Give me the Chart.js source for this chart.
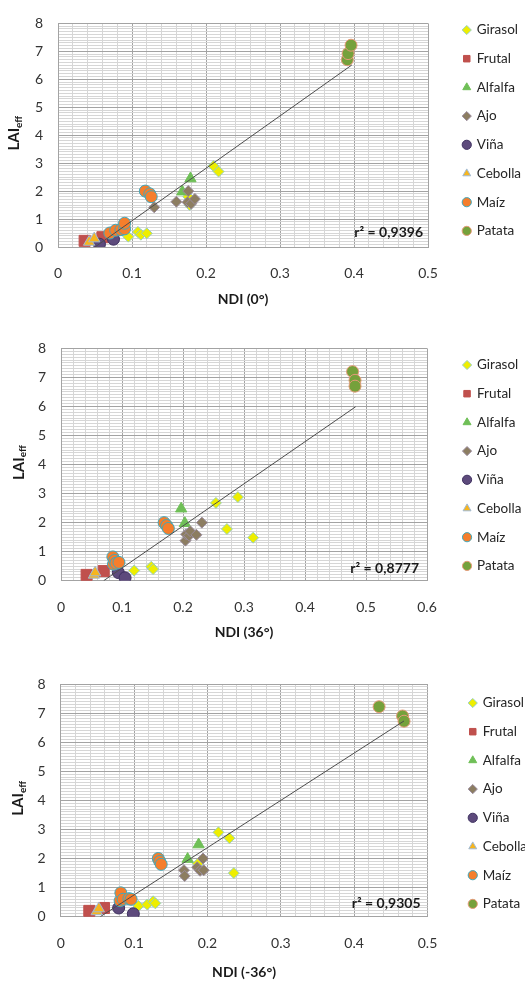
<!DOCTYPE html>
<html>
<head>
<meta charset="utf-8">
<script src="https://cdn.jsdelivr.net/npm/chart.js@4.4.0/dist/chart.umd.min.js"></script>
<style>
    html, body { margin: 0; padding: 0; background: #fff; }
    body { width: 525px; height: 983px; position: relative; overflow: hidden; }
    canvas { position: absolute; left: 0; }
</style>
</head>
<body>
<canvas id="c0" width="525" height="325" style="top:0px"></canvas>
<canvas id="c36" width="525" height="330" style="top:325px"></canvas>
<canvas id="cm36" width="525" height="328" style="top:655px"></canvas>
<script>
var seriesNames = ['Girasol', 'Frutal', 'Alfalfa', 'Ajo', 'Viña', 'Cebolla', 'Maíz', 'Patata'];

// NDI (0°)
var girasol0 = [[0.095, 0.37], [0.108, 0.54], [0.112, 0.44], [0.12, 0.49], [0.176, 1.8], [0.178, 1.5], [0.21, 2.9], [0.217, 2.7]];
var frutal0 = [[0.036, 0.22], [0.06, 0.35]];
var alfalfa0 = [[0.168, 1.98], [0.179, 2.45]];
var ajo0 = [[0.13, 1.42], [0.16, 1.62], [0.175, 1.6], [0.176, 2.0], [0.18, 1.55], [0.185, 1.72]];
var vina0 = [[0.056, 0.1], [0.075, 0.28]];
var cebolla0 = [[0.042, 0.18], [0.049, 0.3]];
var maiz0 = [[0.07, 0.5], [0.078, 0.6], [0.085, 0.62], [0.09, 0.65], [0.09, 0.85], [0.118, 2.0], [0.124, 1.9], [0.126, 1.8]];
var patata0 = [[0.391, 6.7], [0.392, 6.92], [0.396, 7.22]];
var fit0 = [[0.05, 0], [0.397, 6.51]];

// NDI (36°)
var girasol36 = [[0.12, 0.35], [0.148, 0.48], [0.151, 0.4], [0.254, 2.68], [0.272, 1.78], [0.29, 2.88], [0.315, 1.48]];
var frutal36 = [[0.042, 0.2], [0.07, 0.33]];
var alfalfa36 = [[0.197, 2.48], [0.203, 1.98]];
var ajo36 = [[0.204, 1.38], [0.205, 1.6], [0.21, 1.55], [0.212, 1.7], [0.222, 1.58], [0.231, 2.0]];
var vina36 = [[0.094, 0.28], [0.105, 0.1]];
var cebolla36 = [[0.054, 0.2], [0.056, 0.28]];
var maiz36 = [[0.085, 0.82], [0.086, 0.57], [0.088, 0.7], [0.09, 0.6], [0.095, 0.63], [0.169, 2.0], [0.173, 1.9], [0.176, 1.8]];
var patata36 = [[0.478, 7.2], [0.482, 6.9], [0.482, 6.7]];
var fit36 = [[0.07, 0], [0.483, 5.99]];

// NDI (-36°)
var girasolM36 = [[0.106, 0.37], [0.118, 0.42], [0.126, 0.53], [0.129, 0.46], [0.187, 1.82], [0.215, 2.9], [0.23, 2.7], [0.236, 1.5]];
var frutalM36 = [[0.039, 0.2], [0.059, 0.3]];
var alfalfaM36 = [[0.173, 1.98], [0.188, 2.48]];
var ajoM36 = [[0.168, 1.6], [0.169, 1.4], [0.186, 1.7], [0.19, 1.58], [0.194, 2.0], [0.195, 1.6]];
var vinaM36 = [[0.079, 0.3], [0.099, 0.1]];
var cebollaM36 = [[0.049, 0.18], [0.052, 0.28]];
var maizM36 = [[0.081, 0.55], [0.082, 0.82], [0.085, 0.6], [0.093, 0.62], [0.096, 0.6], [0.133, 2.0], [0.135, 1.9], [0.137, 1.8]];
var patataM36 = [[0.434, 7.22], [0.466, 6.9], [0.468, 6.72]];
var fitM36 = [[0.054, 0], [0.468, 6.73]];

var xLabels05 = ['0', '0.1', '0.2', '0.3', '0.4', '0.5'];
var xLabels06 = ['0', '0.1', '0.2', '0.3', '0.4', '0.5', '0.6'];
var yLabels = ['0', '1', '2', '3', '4', '5', '6', '7', '8'];
var xTitles = ['NDI (0°)', 'NDI (36°)', 'NDI (-36°)'];
var r2Texts = ['r² = 0,9396', 'r² = 0,8777', 'r² = 0,9305'];

(function () {
    Chart.defaults.font.family = 'Lato';
    Chart.defaults.font.size = 14;
    Chart.defaults.color = '#333333';

    var majorGrid = '#a3a3a3';
    var minorGrid = '#d6d6d6';

    var styles = [
        { pointStyle: 'rectRot', radius: 5.5, bg: '#eeee00', border: '#96cfc3' },
        { pointStyle: 'rect', radius: 7.8, bg: '#c0504d', border: '#c0504d' },
        { pointStyle: 'triangle', radius: 6.5, bg: '#6fbf57', border: '#6fbf57' },
        { pointStyle: 'rectRot', radius: 5.5, bg: '#8c7d61', border: '#9a8c9f' },
        { pointStyle: 'circle', radius: 6, bg: '#5d4a7c', border: '#3f3160' },
        { pointStyle: 'triangle', radius: 6.5, bg: '#f7b51e', border: '#9fbad6' },
        { pointStyle: 'circle', radius: 6, bg: '#f57e2c', border: '#3fa8bd' },
        { pointStyle: 'circle', radius: 6, bg: '#75a13b', border: '#e59a78' }
    ];

    var charts = [
        {
            id: 'c0', xMax: 0.5, xLabels: xLabels05, xTitle: xTitles[0], r2: r2Texts[0],
            series: [girasol0, frutal0, alfalfa0, ajo0, vina0, cebolla0, maiz0, patata0], fit: fit0,
            pad: { left: 18, right: 17, top: 11, bottom: 13 }, xAxisH: 65, titlePadB: 4,
            dx: 20.3, dy: -2.95, yTitleX: 14.5, r2Inset: [5, 15]
        },
        {
            id: 'c36', xMax: 0.6, xLabels: xLabels06, xTitle: xTitles[1], r2: r2Texts[1],
            series: [girasol36, frutal36, alfalfa36, ajo36, vina36, cebolla36, maiz36, patata36], fit: fit36,
            pad: { left: 21, right: 18, top: 21, bottom: 10 }, xAxisH: 64.3, titlePadB: 4,
            dx: 21.6, dy: -2.95, yTitleX: 19, r2Inset: [8, 12.5]
        },
        {
            id: 'cm36', xMax: 0.5, xLabels: xLabels05, xTitle: xTitles[2], r2: r2Texts[2],
            series: [girasolM36, frutalM36, alfalfaM36, ajoM36, vinaM36, cebollaM36, maizM36, patataM36], fit: fitM36,
            pad: { left: 20.7, right: 17.5, top: 29, bottom: 0 }, xAxisH: 66.3, titlePadB: 2,
            dx: 26.8, dy: -2.95, yTitleX: 18.5, r2Inset: [7, 13.5]
        }
    ];

    // move the legend a bit away from the plot
    var legendShift = {
        id: 'legendShift',
        afterLayout: function (chart, args, opts) {
            var lg = chart.legend;
            lg.left += opts.dx; lg.right += opts.dx;
            lg.top += opts.dy; lg.bottom += opts.dy;
        }
    };

    // r² label and the LAIeff axis title (needs a subscript)
    var extraText = {
        id: 'extraText',
        afterDraw: function (chart, args, opts) {
            var ctx = chart.ctx, a = chart.chartArea;
            ctx.save();
            ctx.fillStyle = '#1a1a1a';
            ctx.font = 'bold 14px Lato';
            ctx.textAlign = 'right';
            ctx.textBaseline = 'middle';
            ctx.fillText(opts.r2, a.right - opts.r2Inset[0], a.bottom - opts.r2Inset[1]);

            ctx.font = 'bold 15px Lato';
            var w1 = ctx.measureText('LAI').width;
            ctx.font = 'bold 10px Lato';
            var w2 = ctx.measureText('eff').width;
            ctx.translate(opts.yTitleX, (a.top + a.bottom) / 2 - 2);
            ctx.rotate(-Math.PI / 2);
            ctx.textAlign = 'left';
            var start = -(w1 + w2) / 2;
            ctx.font = 'bold 15px Lato';
            ctx.fillText('LAI', start, 0);
            ctx.font = 'bold 10px Lato';
            ctx.fillText('eff', start + w1, 4);
            ctx.restore();
        }
    };

    function isMajor(v, step) {
        return Math.abs(v / step - Math.round(v / step)) < 1e-6;
    }

    function toPoints(arr) {
        return arr.map(function (p) { return { x: p[0], y: p[1] }; });
    }

    charts.forEach(function (c) {
        var datasets = c.series.map(function (s, i) {
            var st = styles[i];
            return {
                label: seriesNames[i],
                data: toPoints(s),
                pointStyle: st.pointStyle,
                pointRadius: st.radius,
                backgroundColor: st.bg,
                borderColor: st.border,
                borderWidth: 1,
                order: 8 - i
            };
        });
        datasets.push({
            label: 'fit',
            data: toPoints(c.fit),
            showLine: true,
            pointRadius: 0,
            borderColor: '#4d4d4d',
            borderWidth: 1,
            order: 0
        });

        new Chart(document.getElementById(c.id), {
            type: 'scatter',
            data: { datasets: datasets },
            plugins: [legendShift, extraText],
            options: {
                responsive: false,
                animation: false,
                events: [],
                layout: { padding: c.pad },
                scales: {
                    x: {
                        type: 'linear',
                        min: 0,
                        max: c.xMax,
                        afterFit: function (scale) { scale.height = c.xAxisH; },
                        grid: {
                            drawTicks: false,
                            color: function (ctx) { return isMajor(ctx.tick.value, 0.1) ? majorGrid : minorGrid; }
                        },
                        border: { color: majorGrid },
                        ticks: {
                            stepSize: 0.02,
                            maxTicksLimit: 1000,
                            autoSkip: false,
                            maxRotation: 0,
                            padding: 18,
                            callback: function (value) {
                                return isMajor(value, 0.1) ? c.xLabels[Math.round(value / 0.1)] : '';
                            }
                        },
                        title: {
                            display: true,
                            text: c.xTitle,
                            color: '#1a1a1a',
                            font: { weight: 'bold', size: 14 },
                            padding: { top: 4, bottom: c.titlePadB }
                        }
                    },
                    y: {
                        type: 'linear',
                        min: 0,
                        max: 8,
                        afterFit: function (scale) { scale.width = 40; },
                        grid: {
                            drawTicks: false,
                            color: function (ctx) { return isMajor(ctx.tick.value, 1) ? majorGrid : minorGrid; }
                        },
                        border: { color: majorGrid },
                        ticks: {
                            stepSize: 0.1,
                            maxTicksLimit: 1000,
                            autoSkip: false,
                            padding: 15,
                            callback: function (value) {
                                return isMajor(value, 1) ? yLabels[Math.round(value)] : '';
                            }
                        }
                    }
                },
                plugins: {
                    legend: {
                        position: 'right',
                        align: 'start',
                        maxWidth: 80,
                        labels: {
                            usePointStyle: true,
                            boxWidth: 6.5,
                            boxHeight: 6.5,
                            padding: 15.2,
                            color: '#262626',
                            font: { size: 13.5 },
                            filter: function (item) { return item.datasetIndex < 8; },
                            sort: function (a, b) { return a.datasetIndex - b.datasetIndex; }
                        }
                    },
                    tooltip: { enabled: false },
                    legendShift: { dx: c.dx, dy: c.dy },
                    extraText: { r2: c.r2, r2Inset: c.r2Inset, yTitleX: c.yTitleX }
                }
            }
        });
    });
})();
</script>
</body>
</html>
